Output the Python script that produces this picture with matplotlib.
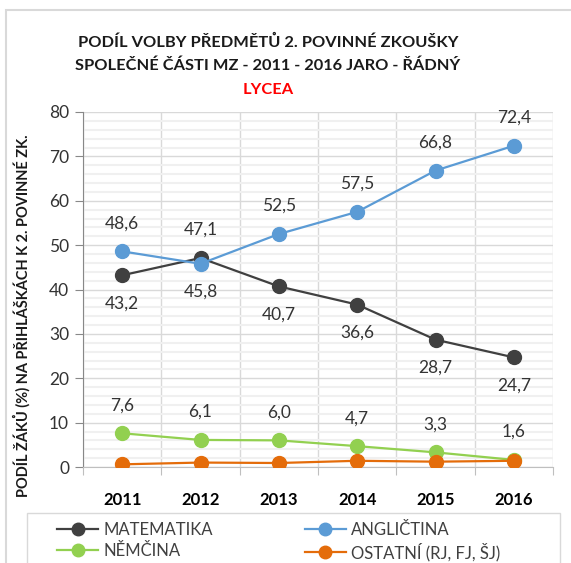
import numpy as np
import matplotlib
matplotlib.use("Agg")
from matplotlib import pyplot as plt
from matplotlib.patches import Rectangle
from matplotlib.ticker import MultipleLocator

plt.rcParams['font.family'] = ['Lato', 'DejaVu Sans']

# Data
years = ["2011", "2012", "2013", "2014", "2015", "2016"]
matematika = [43.2, 47.1, 40.7, 36.6, 28.7, 24.7]
anglictina = [48.6, 45.8, 52.5, 57.5, 66.8, 72.4]
nemcina = [7.6, 6.1, 6.0, 4.7, 3.3, 1.6]
ostatni = [0.6, 1.0, 0.9, 1.4, 1.2, 1.4]
series_names = ["MATEMATIKA", "ANGLIČTINA", "NĚMČINA", "OSTATNÍ (RJ, FJ, ŠJ)"]

W, H = 571, 563
fig = plt.figure(figsize=(W / 100, H / 100), dpi=100)
ax = fig.add_axes([83 / W, 1 - 467 / H, (553 - 83) / W, (467 - 112) / H])

x = np.arange(len(years))
colors = ["#404040", "#5b9bd5", "#92d050", "#e46c0a"]
data = [matematika, anglictina, nemcina, ostatni]
handles = []
for vals, c, name in zip(data, colors, series_names):
    h, = ax.plot(x, vals, color=c, lw=1.6, marker='o', ms=10, label=name, zorder=3)
    handles.append(h)


def fmt(v):
    return f"{v:.1f}".replace(".", ",")


# label placement: +1 above, -1 below
mat_pos = [-1, 1, -1, -1, -1, -1]
ang_pos = [1, -1, 1, 1, 1, 1]
for vals, pos in [(matematika, mat_pos), (anglictina, ang_pos), (nemcina, [1] * 6)]:
    for xi, v, p in zip(x, vals, pos):
        ax.annotate(fmt(v), (xi, v), xytext=(0, 28 * p), textcoords='offset pixels',
                    ha='center', va='center', fontsize=12.5, color='#333333')

ax.set_xlim(-0.5, 5.5)
ax.set_ylim(0, 80)
ax.yaxis.set_major_locator(MultipleLocator(10))
ax.yaxis.set_minor_locator(MultipleLocator(2))
ax.set_xticks(np.arange(-0.5, 6, 1))
ax.set_xticklabels([])
ax.set_xticks(x, minor=True)
ax.set_xticklabels(years, minor=True, fontweight='bold', fontsize=12)
ax.tick_params(axis='x', which='minor', length=0, pad=18)
ax.tick_params(axis='x', which='major', length=6, color='#bfbfbf', direction='out')
ax.tick_params(axis='y', which='major', length=6, color='#888888', labelsize=12.5,
               labelcolor='#333333', pad=4)
ax.tick_params(axis='y', which='minor', length=0)

ax.grid(axis='y', which='minor', color='#f0f0f0', lw=1.5, zorder=0)
ax.grid(axis='y', which='major', color='#d9d9d9', lw=1, zorder=0)
ax.grid(axis='x', which='major', color='#d9d9d9', lw=1, zorder=0)
ax.set_axisbelow(True)
for s in ['top', 'right']:
    ax.spines[s].set_visible(False)
ax.spines['left'].set_color('#888888')
ax.spines['bottom'].set_color('#bfbfbf')

# titles
title_kw = dict(ha='center', va='center', fontsize=11.8, fontweight='bold')
fig.text(268 / W, 1 - 42 / H, "PODÍL VOLBY PŘEDMĚTŮ 2. POVINNÉ ZKOUŠKY", color='#1a1a1a', **title_kw)
fig.text(268 / W, 1 - 66 / H, "SPOLEČNÉ ČÁSTI MZ - 2011 - 2016 JARO - ŘÁDNÝ", color='#1a1a1a', **title_kw)
fig.text(268 / W, 1 - 90 / H, "LYCEA", color='#ff0000', **title_kw)
fig.text(22 / W, 1 - 316 / H, "PODÍL ŽÁKŮ (%) NA PŘIHLÁŠKÁCH K 2. POVINNÉ ZK.",
         rotation=90, ha='center', va='center', fontsize=10.5, fontweight='bold',
         color='#1a1a1a')

# outer frame and legend box
fig.patches.append(Rectangle((6 / W, -0.1), 1.2, 1 - 10 / H + 0.1, transform=fig.transFigure,
                             fill=False, ec='#d9d9d9', lw=1.5))
fig.patches.append(Rectangle((27 / W, -0.1), (560 - 27) / W, 0.1 + 1 - 513 / H,
                             transform=fig.transFigure, fill=False, ec='#d9d9d9', lw=1))

# column-major fill: row 1 = MATEMATIKA, ANGLIČTINA; row 2 = NĚMČINA, OSTATNÍ
order = [0, 2, 1, 3]
leg = fig.legend([handles[i] for i in order], [series_names[i] for i in order],
                 loc='upper left', bbox_to_anchor=(45 / W, 1 - 510 / H),
                 ncol=2, frameon=False, fontsize=12, handlelength=2.5, handletextpad=0.3,
                 columnspacing=5.5, labelspacing=0.3, borderpad=0.2, labelcolor='#404040')
for lh in leg.legend_handles:
    lh.set_markersize(9)

fig.savefig("out.png", dpi=100)
